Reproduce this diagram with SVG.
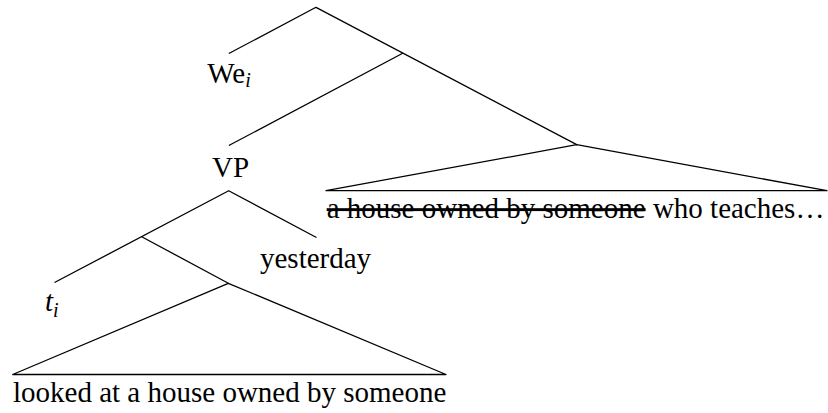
<svg xmlns="http://www.w3.org/2000/svg" width="828" height="413" viewBox="0 0 828 413">
  <style>
    .edge { stroke: #000; stroke-width: 1.3; fill: none; stroke-linecap: round; stroke-linejoin: round; }
    .lbl { font-family: 'Liberation Serif', 'Times New Roman', serif; font-size: 29px; fill: #000; }
    .sub { font-style: italic; font-size: 20px; }
    .it { font-style: italic; }
    .struck { text-decoration: line-through; }
  </style>
  <rect width="828" height="413" fill="#fff"/>

  <!-- tree branches and roof triangles -->
  <g id="connectors">
    <path class="edge" d="M229.3,53.3 L316,7.3 L576.7,144.7"/>
    <path class="edge" d="M229.3,145.3 L402.7,53.3"/>
    <path class="edge" d="M326,190.7 L576.7,144.7 L827,190.7 Z"/>
    <path class="edge" d="M55,282.3 L228.7,190.7 L316,237.3"/>
    <path class="edge" d="M141.7,236.7 L228.3,283.3"/>
    <path class="edge" d="M12.7,374.5 L228.3,283.3 L446,374.5 Z"/>
  </g>

  <g id="node-we">
    <text class="lbl" x="207.3" y="82.7">We<tspan class="sub" dy="4.6">i</tspan></text>
  </g>
  <g id="node-vp">
    <text class="lbl" x="212" y="177">VP</text>
  </g>
  <g id="node-object">
    <text class="lbl" x="326.7" y="218.3"><tspan class="struck">a house owned by someone</tspan> who teaches…</text>
  </g>
  <g id="node-yesterday">
    <text class="lbl" x="260" y="268.3">yesterday</text>
  </g>
  <g id="node-trace">
    <text class="lbl it" x="45" y="311">t<tspan class="sub" dy="5.5">i</tspan></text>
  </g>
  <g id="node-vbar">
    <text class="lbl" x="13" y="402">looked at a house owned by someone</text>
  </g>
</svg>
